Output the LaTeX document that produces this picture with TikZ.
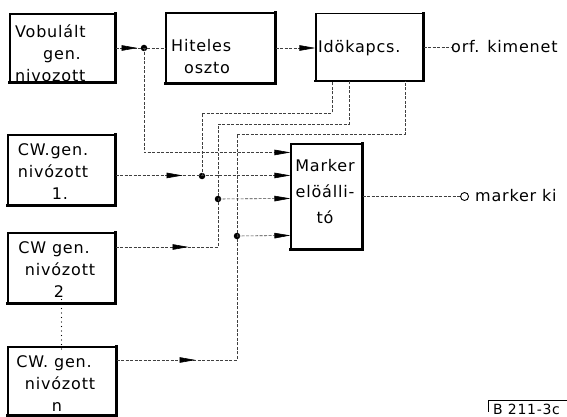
\documentclass[tikz,border=0pt]{standalone}
\usepackage{fontspec}
\setmainfont{DejaVu Sans}[LetterSpace=5]
\usetikzlibrary{arrows.meta,decorations.markings,calc}
\tikzset{
  box/.style={draw, line width=1.1pt, inner sep=0pt},
  boxshade/.style={line width=2.6pt, line cap=rect},
  lbl/.style={font=\fontsize{16}{22}\selectfont, inner sep=0pt},
  conn/.style={line width=0.6pt, draw=black!75, dash pattern=on 3pt off 1.5pt},
  tip/.style={-{Triangle[length=16pt,width=5.5pt,black]}},
  midtip/.style={postaction={decorate}, decoration={markings,
      mark=at position #1 with {\arrow[black]{Triangle[length=16pt,width=5.5pt]}}}},
  junction/.style={circle, fill, inner sep=0pt, minimum size=6.5pt},
}
\newcommand\boxshadow[1]{\draw[boxshade] (#1.north east) -- (#1.south east) -- (#1.south west);}
\begin{document}
\begin{tikzpicture}[x=1pt,y=-1pt]
\useasboundingbox (0,0) rectangle (567,417);
\clip (0,0) rectangle (567,417);
\fill[white] (0,0) rectangle (567,417);

% boxes
\node[box, minimum width=105pt, minimum height=68pt] (vob) at (62.5,48) {};
\node[box, minimum width=109pt, minimum height=70pt] (hit) at (220.5,48) {};
\node[box, minimum width=107pt, minimum height=67pt] (ido) at (369.5,47) {};
\node[box, minimum width=107pt, minimum height=70pt] (cw1) at (61.5,170) {};
\node[box, minimum width=107pt, minimum height=70pt] (cw2) at (61.5,268) {};
\node[box, minimum width=108pt, minimum height=68pt] (cwn) at (62,381) {};
\node[box, minimum width=71pt, minimum height=105pt] (mark) at (326.5,196.5) {};
\boxshadow{vob}\boxshadow{hit}\boxshadow{ido}\boxshadow{cw1}\boxshadow{cw2}\boxshadow{cwn}\boxshadow{mark}

% texts
\node[lbl, align=left, anchor=west] (vobt) at (15,53) {Vobulált\\\hspace*{28pt}gen.\\nivozott};
\node[lbl, align=left, anchor=west] (hitt) at (171,57) {Hiteles\\\hspace*{13pt}oszto};
\node[lbl, anchor=west] (idot) at (318,48) {Idökapcs.};
\node[lbl, align=center] (cw1t) at (53,172) {CW.gen.\\nivózott\\\hspace*{14pt}1.};
\node[lbl, align=center] (cw2t) at (54,270) {CW gen.\\\hspace*{12pt}nivózott\\\hspace*{10pt}2};
\node[lbl, align=center] (cwnt) at (54,384) {CW. gen.\\\hspace*{12pt}nivózott\\\hspace*{6pt}n};
\node[lbl, align=center, font=\fontsize{16}{26}\selectfont] (markt) at (325,192) {Marker\\elöálli-\\tó};
\node[lbl, anchor=west] (orf) at (451,47) {orf. kimenet};
\node[circle, draw, line width=0.9pt, minimum size=8pt, inner sep=0pt] (outc) at ($(mark.east)+(102,0)$) {};
\node[lbl, anchor=west] (mki) at (475,196) {marker ki};
\node[inner sep=0pt, anchor=base west, font=\fontsize{14}{16}\selectfont] (bref) at (493,414.5) {B 211-3c};
\draw[line width=0.5pt] ([xshift=-5pt,yshift=3pt]bref.base west) -- ([xshift=-5pt,yshift=14pt]bref.base west) -- ([xshift=80pt,yshift=14pt]bref.base west);

% junctions and corners
\node[junction] (j1) at (144,48) {};
\node[junction] (j2) at (202,176) {};
\node[junction] (j3) at (218,199) {};
\node[junction] (j4) at (237,236) {};
\coordinate (k1) at (332,113);
\coordinate (k2) at (349,124);
\coordinate (k3) at (405,134);
\coordinate (c2) at (218,247);
\coordinate (cn) at (237,360);
\coordinate (in1) at ($(mark.north west)+(0,9)$);
\coordinate (in2) at ($(mark.north west)+(0,32)$);
\coordinate (in3) at ($(mark.north west)+(0,55)$);
\coordinate (in4) at ($(mark.north west)+(0,92)$);

% connectors
\draw[conn, midtip=22pt] (vob.east) -- (hit.west);
\draw[conn, tip] (hit.east) -- (ido.west |- hit.east);
\draw[conn] (ido.east |- orf.west) -- (orf.west);
\draw[conn, tip] (j1.center) |- (in1);
\draw[conn, tip, midtip=67pt] (cw1.east |- in2) -- (in2);
\draw[conn] (j2.center) |- (k1) -- (k1 |- ido.south);
\draw[conn, midtip=73pt] (cw2.east |- c2) -- (c2) |- (k2) -- (k2 |- ido.south);
\draw[conn, tip] (j3.center) -- (in3);
\draw[conn, midtip=79pt] (cwn.east |- cn) -- (cn) |- (k3) -- (k3 |- ido.south);
\draw[conn, tip] (j4.center) -- (in4);
\draw[conn] (mark.east) -- (outc.west);
\draw[line width=1.3pt, dash pattern=on 0pt off 4.5pt, line cap=round] ([yshift=4pt]cw2.south) -- ([yshift=-3pt]cw2.south |- cwn.north);
\end{tikzpicture}
\end{document}
